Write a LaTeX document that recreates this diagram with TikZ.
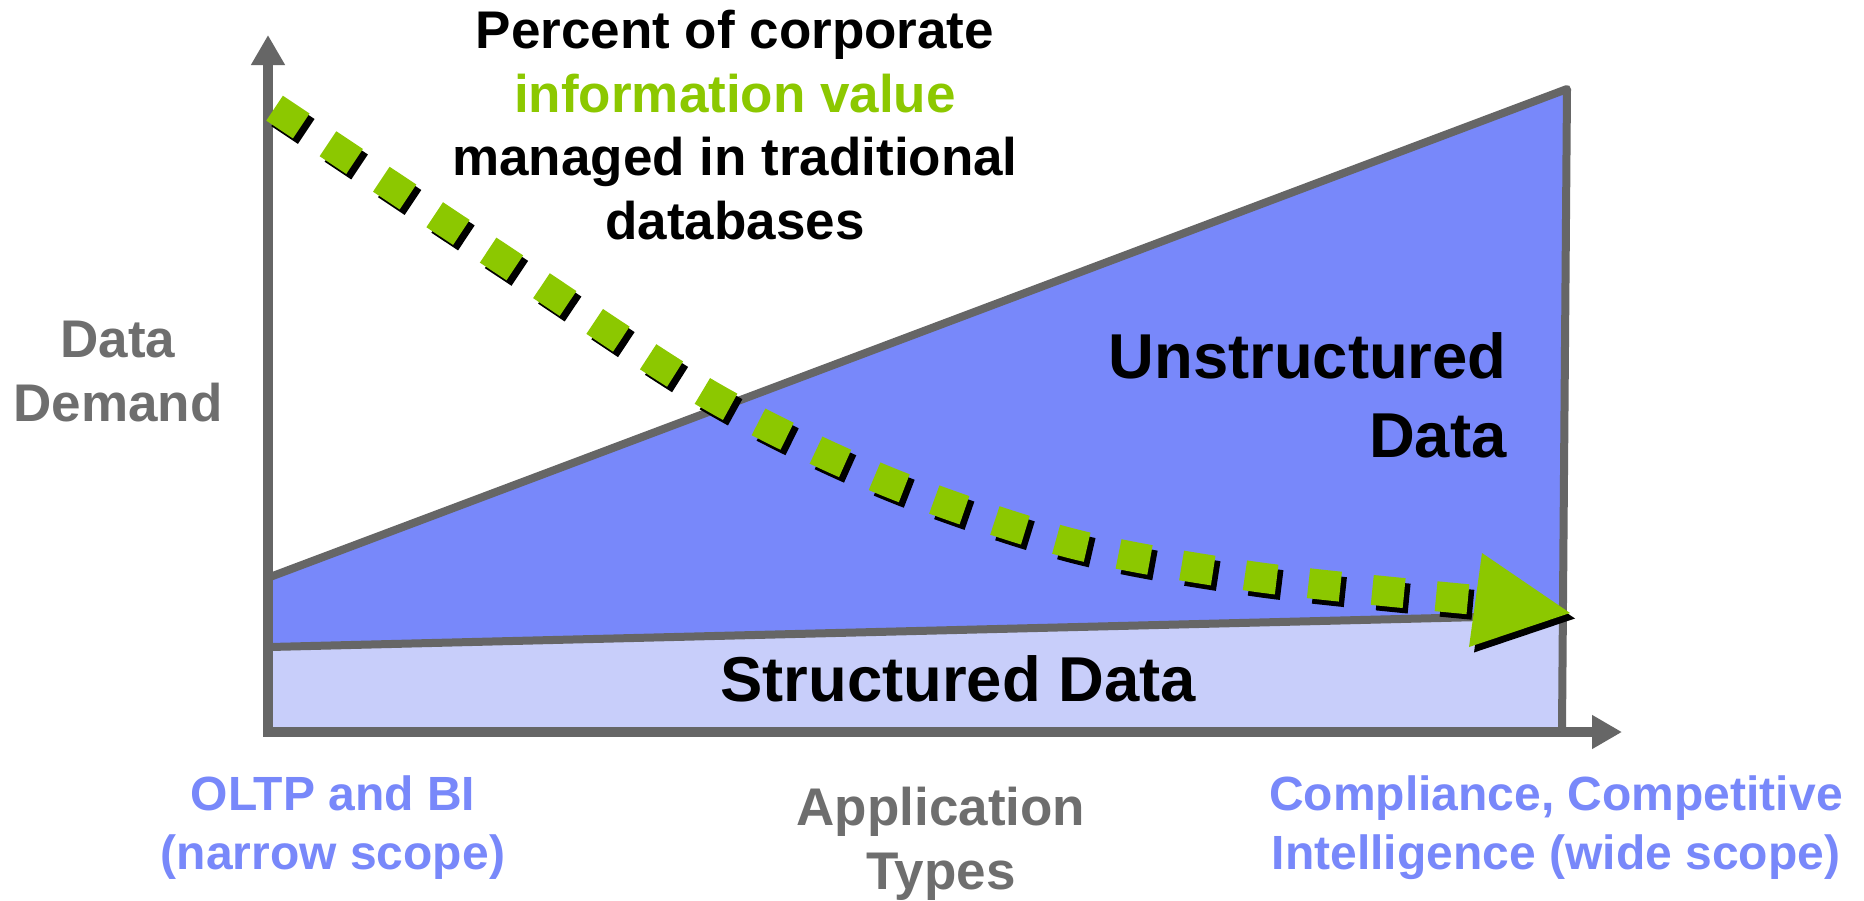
\documentclass[tikz,border=0pt]{standalone}
\usepackage{fontspec}
\setmainfont{Liberation Sans}
\usetikzlibrary{arrows.meta}
\definecolor{axisgray}{HTML}{666666}
\definecolor{txtgray}{HTML}{6E6E6E}
\definecolor{ublue}{HTML}{7888FA}
\definecolor{sblue}{HTML}{C8CEFA}
\definecolor{vgreen}{HTML}{8CC800}
\tikzset{
  axisline/.style={draw=axisgray, line width=5pt, line join=miter,
    {Triangle[length=15pt,width=16pt]}-{Triangle[length=15pt,width=16pt]}},
  edgeline/.style={draw=axisgray, line width=4pt, line join=round, line cap=round},
  sqline/.style={draw=#1, line width=15pt, dash pattern=on 16pt off 16.05pt},
  txt/.style={inner sep=0pt, align=center},
  midfont/.style={font=\fontsize{26.5pt}{31.7pt}\selectfont\bfseries},
  bigfont/.style={font=\fontsize{31.7pt}{39.2pt}\selectfont\bfseries},
  smallfont/.style={font=\fontsize{24pt}{29.5pt}\selectfont\bfseries},
}
\begin{document}
\begin{tikzpicture}[x=0.5pt,y=-0.5pt]
\fill[white] (0,0) rectangle (1864,900);
\useasboundingbox (0,0) rectangle (1864,900);
% regions
\fill[sblue] (270,648) -- (1562,615) -- (1562,729) -- (270,729) -- cycle;
\fill[ublue] (270,577) -- (1567,89) -- (1562,615) -- (270,648) -- cycle;
% outlines
\draw[edgeline] (270,577) -- (1567,89) -- (1562,729);
\draw[edgeline] (270,647) -- (1562,615);
% axes
\draw[axisline] (268,35) -- (268,732) -- (1622,732);
% green dotted trend with shadow
\draw[sqline=black, shift={(5,5.5)}] plot[smooth] coordinates {(274.6,108.2) (497,256) (711,396) (886,481) (1070,543) (1257,577) (1476,600)};
\draw[sqline=vgreen] plot[smooth] coordinates {(274.6,108.2) (497,256) (711,396) (886,481) (1070,543) (1257,577) (1476,600)};
\fill[black, shift={(5,5.5)}] (1570,613) -- (1482,553) -- (1469,647) -- cycle;
\fill[vgreen] (1570,613) -- (1482,553) -- (1469,647) -- cycle;
% texts (base anchor = baseline of the last line)
\node[txt, midfont, anchor=base] (title) at (735,239) {Percent of corporate\\ \textcolor{vgreen}{information value}\\ managed in traditional\\ databases};
\node[txt, midfont, text=txtgray, anchor=base] (ylab) at (118,421) {Data\\ Demand};
\node[txt, bigfont, align=right, anchor=base east] (unstr) at (1507,457) {Unstructured\\ Data};
\node[txt, bigfont, anchor=base] (str) at (958,701) {Structured Data};
\node[txt, smallfont, text=ublue, anchor=base] (oltp) at (333,869) {OLTP and BI\\ (narrow scope)};
\node[txt, midfont, text=txtgray, anchor=base] (xlab) at (941,889) {Application\\ Types};
\node[txt, smallfont, text=ublue, anchor=base] (comp) at (1556,869) {Compliance, Competitive\\ Intelligence (wide scope)};
\end{tikzpicture}
\end{document}
